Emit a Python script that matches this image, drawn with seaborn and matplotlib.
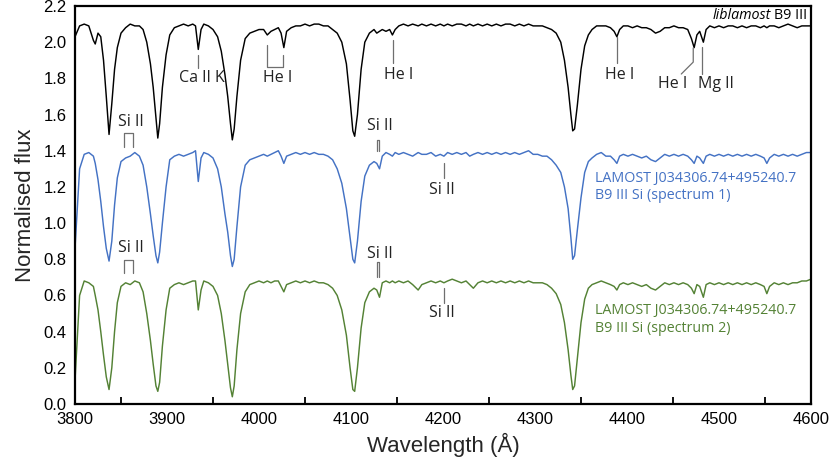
import matplotlib
matplotlib.use("Agg")
import matplotlib.pyplot as plt
import seaborn as sns
import pandas as pd
from matplotlib.ticker import FixedLocator, MultipleLocator, FormatStrFormatter

# ---------------- data ----------------
wavelength = [
    3800, 3805, 3810, 3815, 3820, 3822, 3825, 3828, 3831, 3834,
    3837, 3840, 3843, 3846, 3850, 3855, 3860, 3865, 3870, 3874,
    3878, 3882, 3885, 3888, 3890, 3892, 3895, 3899, 3903, 3908,
    3913, 3918, 3923, 3928, 3931, 3934, 3937, 3940, 3945, 3950,
    3955, 3959, 3963, 3966, 3969, 3971, 3973, 3976, 3980, 3985,
    3990, 3995, 4000, 4005, 4009, 4013, 4017, 4021, 4024, 4027,
    4030, 4035, 4040, 4045, 4050, 4055, 4060, 4065, 4070, 4075,
    4080, 4085, 4090, 4095, 4099, 4102, 4104, 4107, 4111, 4115,
    4120, 4125, 4128, 4131, 4134, 4138, 4142, 4145, 4148, 4152,
    4157, 4162, 4167, 4173, 4177, 4182, 4187, 4192, 4197, 4201,
    4205, 4210, 4215, 4220, 4225, 4229, 4233, 4238, 4243, 4248,
    4253, 4258, 4263, 4268, 4273, 4278, 4283, 4288, 4293, 4298,
    4303, 4308, 4313, 4318, 4323, 4328, 4332, 4336, 4339, 4341,
    4343, 4346, 4350, 4354, 4358, 4362, 4367, 4372, 4377, 4382,
    4386, 4389, 4392, 4396, 4401, 4406, 4411, 4416, 4421, 4426,
    4431, 4436, 4441, 4446, 4451, 4456, 4461, 4466, 4470, 4473,
    4476, 4479, 4483, 4486, 4490, 4495, 4500, 4505, 4510, 4515,
    4520, 4525, 4530, 4535, 4540, 4545, 4549, 4552, 4555, 4560,
    4565, 4570, 4575, 4580, 4585, 4590, 4595, 4600,
]

flux_liblamost = [
    2.03, 2.09, 2.10, 2.09, 2.01, 1.99, 2.05, 2.03, 1.90, 1.70,
    1.49, 1.66, 1.85, 1.97, 2.05, 2.08, 2.10, 2.09, 2.09, 2.07,
    2.00, 1.88, 1.75, 1.58, 1.47, 1.55, 1.75, 1.93, 2.04, 2.08,
    2.09, 2.10, 2.09, 2.10, 2.09, 1.96, 2.07, 2.10, 2.09, 2.07,
    2.03, 1.95, 1.82, 1.70, 1.55, 1.46, 1.52, 1.70, 1.90, 2.02,
    2.05, 2.06, 2.07, 2.07, 2.04, 2.06, 2.07, 2.08, 2.05, 1.97,
    2.06, 2.08, 2.09, 2.09, 2.10, 2.09, 2.10, 2.10, 2.09, 2.09,
    2.07, 2.05, 2.00, 1.88, 1.68, 1.51, 1.48, 1.60, 1.85, 2.00,
    2.05, 2.07, 2.05, 2.06, 2.07, 2.06, 2.07, 2.04, 2.07, 2.09,
    2.10, 2.09, 2.10, 2.09, 2.10, 2.09, 2.10, 2.09, 2.10, 2.09,
    2.10, 2.09, 2.10, 2.10, 2.09, 2.10, 2.09, 2.10, 2.09, 2.10,
    2.09, 2.10, 2.09, 2.10, 2.10, 2.09, 2.10, 2.09, 2.10, 2.09,
    2.09, 2.09, 2.08, 2.07, 2.05, 2.00, 1.90, 1.75, 1.60, 1.51,
    1.52, 1.65, 1.85, 1.98, 2.04, 2.07, 2.09, 2.09, 2.09, 2.08,
    2.06, 2.03, 2.07, 2.09, 2.09, 2.08, 2.09, 2.08, 2.08, 2.07,
    2.05, 2.06, 2.08, 2.08, 2.09, 2.08, 2.08, 2.07, 2.02, 1.97,
    2.04, 2.06, 2.00, 2.07, 2.09, 2.08, 2.09, 2.08, 2.09, 2.09,
    2.08, 2.09, 2.08, 2.09, 2.09, 2.08, 2.09, 2.08, 2.09, 2.09,
    2.08, 2.09, 2.10, 2.09, 2.08, 2.09, 2.09, 2.09,
]

flux_spectrum1 = [
    0.86, 1.30, 1.38, 1.39, 1.37, 1.33, 1.24, 1.12, 0.98, 0.86,
    0.79, 0.90, 1.10, 1.25, 1.34, 1.36, 1.37, 1.39, 1.37, 1.32,
    1.20, 1.05, 0.93, 0.82, 0.78, 0.84, 1.00, 1.20, 1.35, 1.37,
    1.38, 1.37, 1.38, 1.39, 1.40, 1.23, 1.36, 1.39, 1.38, 1.36,
    1.30, 1.20, 1.05, 0.95, 0.82, 0.76, 0.80, 0.98, 1.20, 1.32,
    1.35, 1.36, 1.37, 1.38, 1.37, 1.38, 1.39, 1.40, 1.37, 1.33,
    1.37, 1.38, 1.39, 1.38, 1.39, 1.38, 1.39, 1.38, 1.38, 1.37,
    1.35, 1.30, 1.22, 1.08, 0.92, 0.80, 0.78, 0.90, 1.12, 1.26,
    1.32, 1.34, 1.33, 1.30, 1.37, 1.39, 1.38, 1.37, 1.39, 1.38,
    1.39, 1.38, 1.37, 1.39, 1.38, 1.38, 1.39, 1.37, 1.38, 1.37,
    1.39, 1.38, 1.39, 1.38, 1.39, 1.37, 1.38, 1.39, 1.38, 1.39,
    1.38, 1.39, 1.38, 1.39, 1.38, 1.39, 1.38, 1.39, 1.40, 1.38,
    1.38, 1.37, 1.37, 1.35, 1.32, 1.28, 1.20, 1.08, 0.92, 0.80,
    0.82, 0.96, 1.14, 1.28, 1.34, 1.36, 1.38, 1.39, 1.37, 1.37,
    1.35, 1.33, 1.37, 1.38, 1.37, 1.38, 1.37, 1.36, 1.37, 1.35,
    1.34, 1.36, 1.38, 1.37, 1.38, 1.37, 1.38, 1.37, 1.35, 1.33,
    1.37, 1.36, 1.33, 1.37, 1.38, 1.37, 1.38, 1.37, 1.38, 1.37,
    1.38, 1.37, 1.38, 1.37, 1.38, 1.37, 1.36, 1.33, 1.36, 1.38,
    1.37, 1.38, 1.37, 1.38, 1.37, 1.38, 1.39, 1.39,
]

flux_spectrum2 = [
    0.13, 0.60, 0.68, 0.67, 0.65, 0.60, 0.52, 0.40, 0.27, 0.15,
    0.08, 0.20, 0.40, 0.56, 0.65, 0.67, 0.66, 0.68, 0.67, 0.62,
    0.50, 0.35, 0.22, 0.10, 0.07, 0.12, 0.32, 0.52, 0.64, 0.66,
    0.67, 0.66, 0.67, 0.68, 0.68, 0.52, 0.63, 0.68, 0.67, 0.65,
    0.60, 0.50, 0.35, 0.22, 0.09, 0.04, 0.10, 0.30, 0.50, 0.62,
    0.66, 0.67, 0.68, 0.67, 0.68, 0.67, 0.68, 0.68, 0.65, 0.62,
    0.66, 0.67, 0.68, 0.67, 0.68, 0.67, 0.68, 0.67, 0.67, 0.66,
    0.64, 0.60, 0.52, 0.38, 0.20, 0.08, 0.07, 0.20, 0.42, 0.56,
    0.62, 0.64, 0.63, 0.59, 0.67, 0.68, 0.67, 0.68, 0.67, 0.68,
    0.67, 0.68, 0.66, 0.63, 0.66, 0.67, 0.68, 0.67, 0.68, 0.67,
    0.68, 0.69, 0.68, 0.67, 0.68, 0.66, 0.64, 0.67, 0.68, 0.67,
    0.68, 0.67, 0.68, 0.67, 0.68, 0.67, 0.68, 0.67, 0.68, 0.67,
    0.67, 0.67, 0.66, 0.64, 0.61, 0.55, 0.45, 0.30, 0.16, 0.08,
    0.10, 0.25, 0.45, 0.58, 0.64, 0.66, 0.67, 0.68, 0.67, 0.66,
    0.65, 0.63, 0.66, 0.67, 0.66, 0.67, 0.66, 0.65, 0.66, 0.64,
    0.63, 0.65, 0.67, 0.66, 0.67, 0.66, 0.67, 0.66, 0.64, 0.61,
    0.66, 0.65, 0.59, 0.66, 0.67, 0.66, 0.67, 0.66, 0.67, 0.66,
    0.67, 0.66, 0.67, 0.66, 0.67, 0.66, 0.65, 0.61, 0.65, 0.67,
    0.66, 0.67, 0.66, 0.67, 0.67, 0.68, 0.68, 0.69,
]

x_ticks = [3800, 3900, 4000, 4100, 4200, 4300, 4400, 4500, 4600]
y_ticks = [0.0, 0.2, 0.4, 0.6, 0.8, 1.0, 1.2, 1.4, 1.6, 1.8, 2.0, 2.2]

star_name = "LAMOST J034306.74+495240.7"
label_spec1 = "B9 III Si (spectrum 1)"
label_spec2 = "B9 III Si (spectrum 2)"

assert len(wavelength) == len(flux_liblamost) == len(flux_spectrum1) == len(flux_spectrum2)

# ---------------- styling ----------------
sns.set_theme(style="white")
plt.rcParams["font.family"] = ["Open Sans", "DejaVu Sans"]
NARROW = ["Liberation Sans Narrow", "Liberation Sans", "DejaVu Sans"]

BLUE = "#4472C4"
GREEN = "#548235"
GREY = "#6f6f6f"

fig = plt.figure(figsize=(8.3, 4.65), dpi=100)
ax = fig.add_axes([75 / 830, 61 / 465, 736 / 830, 398 / 465])

df = pd.DataFrame({
    "wl": wavelength,
    "lib": flux_liblamost,
    "s1": flux_spectrum1,
    "s2": flux_spectrum2,
})

for col, c in (("lib", "black"), ("s1", BLUE), ("s2", GREEN)):
    sns.lineplot(data=df, x="wl", y=col, color=c, lw=1.05, ax=ax,
                 estimator=None, sort=False)

ax.set_xlim(3800, 4600)
ax.set_ylim(0, 2.2)
ax.xaxis.set_major_locator(FixedLocator(x_ticks))
ax.xaxis.set_minor_locator(MultipleLocator(50))
ax.yaxis.set_major_locator(FixedLocator(y_ticks))
ax.yaxis.set_major_formatter(FormatStrFormatter("%.1f"))
ax.tick_params(which="both", direction="in", length=5, width=1.3,
               colors="black", labelsize=12, pad=6)
ax.tick_params(axis="x", which="minor", bottom=True)
for lbl in ax.get_xticklabels() + ax.get_yticklabels():
    lbl.set_fontfamily(NARROW)

for s in ax.spines.values():
    s.set_color("black")
    s.set_linewidth(1.6)

ax.set_xlabel("Wavelength (Å)", fontsize=16, family=NARROW, labelpad=4)
ax.set_ylabel("Normalised flux", fontsize=16, family=NARROW, labelpad=5)

FS = 11.5
FS_NAME = 10.3


def tick(x, y0, y1):
    ax.plot([x, x], [y0, y1], color=GREY, lw=0.9)


def bracket(x1, x2, ytop, ybot):
    ax.plot([x1, x1, x2, x2], [ybot, ytop, ytop, ybot], color=GREY, lw=0.9)


def label(x, y, s):
    ax.text(x, y, s, ha="center", va="center", fontsize=FS, color="#222222")


# liblamost annotations
tick(3934, 1.93, 1.86)
label(3938, 1.80, "Ca II K")
ax.plot([4009, 4009, 4026, 4026], [1.985, 1.865, 1.865, 1.93], color=GREY, lw=0.9)
label(4020, 1.80, "He I")
tick(4146, 2.01, 1.885)
label(4152, 1.82, "He I")
tick(4389, 2.03, 1.883)
label(4392, 1.82, "He I")
ax.plot([4472, 4472, 4459], [1.968, 1.89, 1.824], color=GREY, lw=0.9)
label(4450, 1.77, "He I")
tick(4482, 1.973, 1.824)
label(4497, 1.77, "Mg II")

# spectrum 1 annotations
bracket(3853.7, 3862.6, 1.497, 1.422)
label(3861, 1.56, "Si II")
bracket(4128.1, 4130.9, 1.459, 1.40)
label(4131, 1.537, "Si II")
tick(4201, 1.332, 1.249)
label(4199, 1.183, "Si II")

# spectrum 2 annotations
bracket(3853.7, 3862.6, 0.796, 0.724)
label(3861, 0.862, "Si II")
bracket(4128.1, 4130.9, 0.785, 0.702)
label(4131, 0.829, "Si II")
tick(4201, 0.641, 0.56)
label(4199, 0.503, "Si II")

ax.text(4365, 1.20, star_name + "\n" + label_spec1, ha="left", va="center",
        fontsize=FS_NAME, color=BLUE, linespacing=1.2)
ax.text(4365, 0.467, star_name + "\n" + label_spec2, ha="left", va="center",
        fontsize=FS_NAME, color=GREEN, linespacing=1.2)

# "liblamost B9 III" (italic + regular)
t2 = ax.text(4596, 2.147, "B9 III", ha="right", va="center", fontsize=FS_NAME,
             color="black")
fig.canvas.draw()
bb = t2.get_window_extent(renderer=fig.canvas.get_renderer())
inv = ax.transData.inverted()
x_left = inv.transform((bb.x0 - 3, bb.y0))[0]
ax.text(x_left, 2.147, "liblamost", ha="right", va="center", fontsize=FS_NAME,
        style="italic", color="black")

fig.savefig("out.png", dpi=100)
